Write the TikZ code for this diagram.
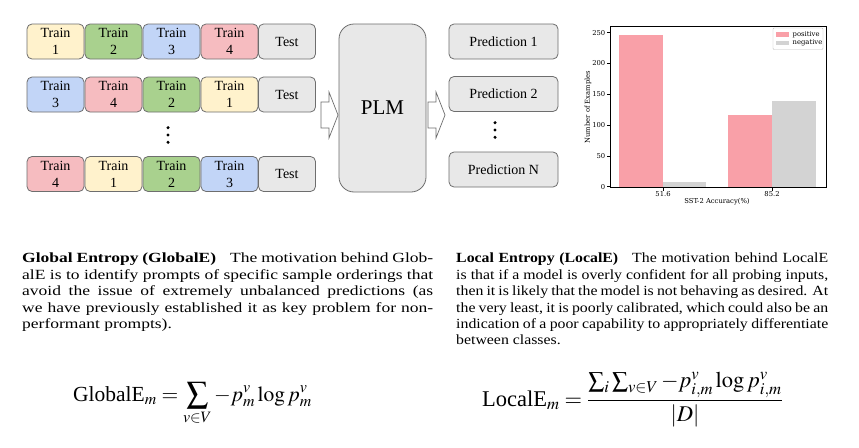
\documentclass[tikz,border=0pt]{standalone}
\usepackage{amsmath}
\usepackage{mathptmx}
\usepackage{fontspec}
\setmainfont{Liberation Serif}
\newfontfamily\globalfont{Liberation Serif}[FakeStretch=1.25]
\newfontfamily\localfont{Liberation Serif}[FakeStretch=1.13]
\newfontfamily\chartfont{DejaVu Serif}
\usepackage{tikz}
\usetikzlibrary{positioning}
\definecolor{train1}{HTML}{FFF2CC}
\definecolor{train2}{HTML}{A9D18E}
\definecolor{train3}{HTML}{C2D5F7}
\definecolor{train4}{HTML}{F6BCC0}
\definecolor{testgray}{HTML}{E8E8E8}
\definecolor{boxgray}{HTML}{6E6E6E}
\definecolor{pospink}{HTML}{F9A0A8}
\definecolor{neggray}{HTML}{D3D3D3}

\begin{document}
\begin{tikzpicture}[
    x=1pt, y=-1pt,
    cell/.style={draw=boxgray, line width=0.8pt, rounded corners=5pt, minimum width=57pt, minimum height=35pt,
        inner sep=0pt, align=center, font=\fontsize{14}{17}\selectfont},
    predbox/.style={cell, fill=testgray, minimum width=109pt},
    plmbox/.style={cell, fill=testgray, minimum width=87pt, minimum height=168pt, rounded corners=15pt,
        font=\fontsize{21}{25}\selectfont},
    blockarrow/.style={draw=boxgray, line width=0.7pt, fill=white, line join=miter},
    dotmark/.style={circle, fill=black, inner sep=0pt, minimum size=3.4pt},
    tick/.style={line width=0.5pt},
    chartlabel/.style={font=\chartfont\fontsize{6.8}{7.5}\selectfont, inner sep=1pt},
    para/.style={anchor=north west, inner sep=0pt, align=justify},
    formula/.style={anchor=base west, inner sep=0pt},
]
    \path[fill=white, use as bounding box] (0,0) rectangle (859,447);

    % orderings of the training samples
    \foreach \row/\yy/\order in {1/41.5/{1,2,3,4}, 2/94.5/{3,4,2,1}, 3/174/{4,1,2,3}} {
        \foreach \n [count=\i] in \order {
            \node[cell, fill=train\n] (r\row c\i) at ({55.5+58*(\i-1)}, \yy) {Train\\\n};
        }
        \node[cell, fill=testgray] (r\row test) at (287, \yy) {Test};
    }
    \foreach \k in {0,1,2}
        \node[dotmark] (rowdot\k) at (168, {127.7+7.3*\k}) {};

    % model
    \foreach \ax in {321, 428}
        \draw[blockarrow] (\ax,102) -- ++(8,0) -- ++(0,-10) -- ++(9,23) -- ++(-9,23) -- ++(0,-10) -- ++(-8,0) -- cycle;
    \node[plmbox] (plm) at (382.5, 108) {PLM};

    % predictions
    \node[predbox] (pred1) at (503.5, 41.5) {Prediction 1};
    \node[predbox] (pred2) at (503.5, 94) {Prediction 2};
    \node[predbox] (predN) at (503.5, 169.5) {Prediction N};
    \foreach \k in {0,1,2}
        \node[dotmark] (preddot\k) at (495, {122.7+7.3*\k}) {};

    % label distribution chart
    \begin{scope}[shift={(0,186.7)}, y=0.616pt]
        \fill[pospink] (619,0) rectangle (663,247);
        \fill[neggray] (663,0) rectangle (706,8);
        \fill[pospink] (728,0) rectangle (772,117);
        \fill[neggray] (772,0) rectangle (816,139);
        \foreach \v in {0,50,...,250}
            \draw[tick] (610,\v) -- (606.5,\v) node[chartlabel, left] (ytick\v) {\v};
    \end{scope}
    \draw[line width=0.8pt] (610,26) rectangle (826,187);
    \draw[tick] (663,187) -- (663,190.5) node[chartlabel, below] (xtick1) {51.6};
    \draw[tick] (772,187) -- (772,190.5) node[chartlabel, below] (xtick2) {85.2};
    \node[chartlabel] (xlab) at (717, 202) {SST-2 Accuracy(\%)};
    \node[chartlabel, rotate=90] (ylab) at (588, 107) {Number of Examples};
    \draw[draw=black!25, line width=0.4pt, rounded corners=1pt] (773,28) rectangle (823,49.5);
    \fill[pospink] (776,32.3) rectangle (789,36.5);
    \node[chartlabel, anchor=west] (legpos) at (791.5, 34.4) {positive};
    \fill[neggray] (776,41) rectangle (789,45.2);
    \node[chartlabel, anchor=west] (legneg) at (791.5, 43.1) {negative};

    % paragraphs
    \node[para, text width=411pt, font=\globalfont\fontsize{14}{16.4}\selectfont] (globalpar) at (22, 253) {%
        \textbf{Global Entropy (GlobalE)}\hspace{1em}The motivation behind Glob-\linebreak
        alE is to identify prompts of specific sample orderings that\linebreak
        avoid the issue of extremely unbalanced predictions (as\linebreak
        we have previously established it as key problem for non-\linebreak
        performant prompts).};
    \node[para, text width=372pt, font=\localfont\fontsize{14}{16.4}\selectfont] (localpar) at (456, 253) {%
        \textbf{Local Entropy (LocalE)}\hspace{1em}The motivation behind LocalE\linebreak
        is that if a model is overly confident for all probing inputs,\linebreak
        then it is likely that the model is not behaving as desired. At\linebreak
        the very least, it is poorly calibrated, which could also be an\linebreak
        indication of a poor capability to appropriately differentiate\linebreak
        between classes.};

    % formulas
    \node[formula, font=\fontsize{21.5}{25}\selectfont] (globaleq) at (73, 401)
        {$\displaystyle \text{GlobalE}_m = \sum_{v\in V} -p^v_m \log p^v_m$};
    \node[formula, font=\fontsize{22.5}{27}\selectfont] (localeq) at (482, 406)
        {$\displaystyle \text{LocalE}_m = \frac{\sum_i \sum_{v\in V} -p^v_{i,m} \log p^v_{i,m}}{|D|}$};
\end{tikzpicture}
\end{document}
